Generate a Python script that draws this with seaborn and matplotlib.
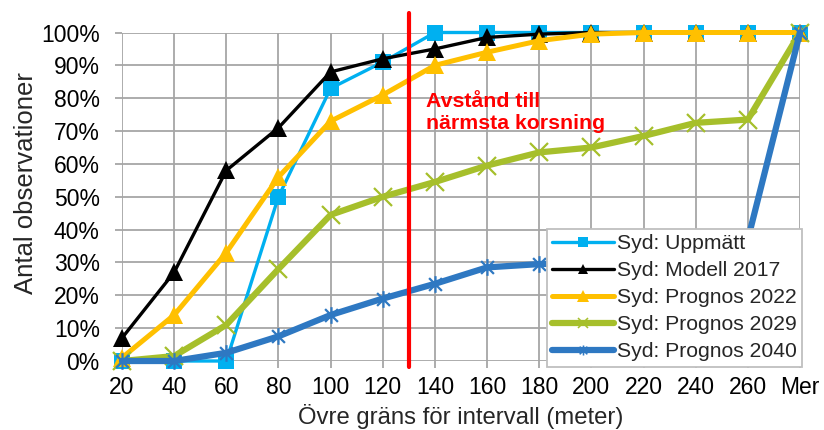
import numpy as np
import pandas as pd
import matplotlib
matplotlib.use("Agg")
import matplotlib.pyplot as plt
from matplotlib.path import Path
from matplotlib.lines import Line2D
from matplotlib.ticker import PercentFormatter
import seaborn as sns

# Interval upper limits (metres) and cumulative share of observations (%)
intervals = ["20", "40", "60", "80", "100", "120", "140", "160", "180",
             "200", "220", "240", "260", "Mer"]
uppmatt = [0, 0, 0, 50, 83, 91, 100, 100, 100, 100, 100, 100, 100, 100]
modell_2017 = [7, 27, 58, 71, 88, 92, 95, 98.5, 99.5, 100, 100, 100, 100, 100]
prognos_2022 = [1, 14, 33, 56, 73, 81, 90, 94, 97.5, 99.5, 100, 100, 100, 100]
prognos_2029 = [0, 1.5, 11, 28, 44.5, 50, 54.5, 59.5, 63.5, 65, 68.5, 72.5, 73.5, 100]
prognos_2040 = [0, 0, 2.5, 7.5, 14, 19, 23.5, 28.5, 29.5, 30, 31, 33, 37, 100]

series_names = ["Syd: Uppmätt", "Syd: Modell 2017", "Syd: Prognos 2022",
                "Syd: Prognos 2029", "Syd: Prognos 2040"]
series_values = [uppmatt, modell_2017, prognos_2022, prognos_2029, prognos_2040]

threshold_pos = 5.5  # between 120 and 140 m
threshold_text = "Avstånd till\nnärmsta korsning"

# Asterisk-like star marker: two diagonals plus a vertical stroke
star_path = Path(
    [(-1, -1), (1, 1), (-1, 1), (1, -1), (0, -1.3), (0, 1.3)],
    [Path.MOVETO, Path.LINETO, Path.MOVETO, Path.LINETO, Path.MOVETO, Path.LINETO],
)

styles = [
    dict(color="#00B0F0", lw=2.4, marker="s", ms=11.5, mew=0),
    dict(color="#000000", lw=2.4, marker="^", ms=12.5, mew=0),
    dict(color="#FFC000", lw=3.6, marker="^", ms=13.5, mew=0),
    dict(color="#A6BF2B", lw=4.5, marker="x", ms=12.5, mew=1.6),
    dict(color="#2E78C2", lw=4.5, marker=star_path, ms=12, mew=1.6),
]

sns.set_theme(style="white")
plt.rcParams["font.family"] = ["Liberation Sans", "DejaVu Sans"]

fig = plt.figure(figsize=(8.24, 4.30), dpi=100)
ax = fig.add_axes([122 / 824, 69 / 430, 678 / 824, 328.5 / 430])

positions = np.arange(len(intervals))
for name, vals, st in zip(series_names, series_values, styles):
    df = pd.DataFrame({"pos": positions, "andel": vals})
    sns.lineplot(data=df, x="pos", y="andel", ax=ax, color=st["color"],
                 linewidth=st["lw"], marker=st["marker"], markersize=st["ms"],
                 markeredgewidth=st["mew"], markeredgecolor=st["color"],
                 markerfacecolor=st["color"], clip_on=False, legend=False)

ax.set_xlim(0, len(intervals) - 1)
ax.set_ylim(0, 100)
ax.set_xticks(positions)
ax.set_xticklabels(intervals)
ax.set_yticks(np.arange(0, 101, 10))
ax.yaxis.set_major_formatter(PercentFormatter(decimals=0))

grid_color = "#A6A6A6"
ax.grid(True, color=grid_color, linewidth=1.3)
ax.set_axisbelow(True)
for s in ax.spines.values():
    s.set_visible(False)
ax.tick_params(axis="both", which="major", labelsize=16.5, colors="black",
               color=grid_color, width=1.3, length=5, direction="out")
ax.tick_params(axis="y", pad=11, left=True)
ax.tick_params(axis="x", pad=6, bottom=True)

ax.set_xlabel("Övre gräns för intervall (meter)", fontsize=17.2)
ax.set_ylabel("Antal observationer", fontsize=18.5)
ax.xaxis.set_label_coords(0.5, -0.132)
ax.yaxis.set_label_coords(-0.124, 0.543)

# Vertical marker for the distance to the nearest junction
ax.plot([threshold_pos, threshold_pos], [-1.8, 106], color="#FF0000",
        linewidth=3.0, clip_on=False, zorder=5)
ax.text(threshold_pos + 0.33, 75.5, threshold_text, color="#FF0000",
        fontsize=15.3, fontweight="bold", ha="left", va="center",
        linespacing=1.2)

handles = [
    Line2D([], [], color=st["color"], linewidth=st["lw"], marker=st["marker"],
           markersize=st["ms"] * 0.6, markeredgewidth=st["mew"] * 0.7,
           markerfacecolor=st["color"], markeredgecolor=st["color"])
    for st in styles
]
leg = ax.legend(handles, series_names, loc="upper left",
                bbox_to_anchor=(547 / 824, 1 - 229 / 430),
                bbox_transform=fig.transFigure, fontsize=15.2,
                frameon=True, fancybox=False, framealpha=1,
                edgecolor="#BFBFBF", borderaxespad=0, borderpad=0.25,
                handlelength=2.9, handletextpad=0.15, labelspacing=0.38)
leg.get_frame().set_linewidth(1.3)
leg.set_zorder(10)

fig.savefig("out.png", dpi=100, facecolor="white")
